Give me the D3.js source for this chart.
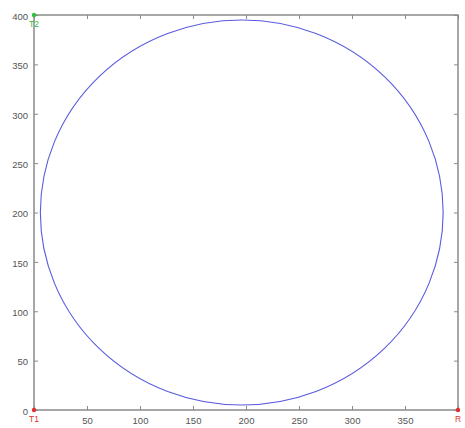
<!DOCTYPE html>
<html><head><meta charset="utf-8">
<script src="https://cdn.jsdelivr.net/npm/d3@7"></script>
<style>body{margin:0;background:#fff}svg{display:block}text{font-family:"Liberation Sans",Arial,sans-serif}</style>
</head><body>
<svg id="c" width="465" height="428"></svg>
<script>
const xTicks = [0, 50, 100, 150, 200, 250, 300, 350, 400];
const yTicks = [0, 50, 100, 150, 200, 250, 300, 350, 400];
const xTickLabels = ["", "50", "100", "150", "200", "250", "300", "350", ""];
const yTickLabels = ["0", "50", "100", "150", "200", "250", "300", "350", "400"];
const circleCenter = [196, 200];
const circleRadii = [190, 195];
const markerNames = ["T1", "T2", "R"];
const markerX = [0, 0, 400];
const markerY = [0, 400, 0];
const markerColors = ["#e03030", "#30c040", "#e03030"];

const svg = d3.select("#c");
const x = d3.scaleLinear().domain([0, 400]).range([34, 458]);
const y = d3.scaleLinear().domain([0, 400]).range([410, 15]);
const axisColor = "#8a8a8a";

svg.append("rect").attr("x", x(0)).attr("y", y(400)).attr("width", x(400) - x(0)).attr("height", y(0) - y(400))
  .attr("fill", "#fff").attr("stroke", axisColor).attr("stroke-width", 1.5);

const gx = svg.append("g").attr("transform", `translate(0,${y(0)})`)
  .call(d3.axisBottom(x).tickValues(xTicks).tickFormat((d, i) => xTickLabels[i]).tickSizeInner(-4).tickSizeOuter(0).tickPadding(7));
const gxt = svg.append("g").attr("transform", `translate(0,${y(400)})`)
  .call(d3.axisTop(x).tickValues(xTicks).tickFormat("").tickSizeInner(-4).tickSizeOuter(0));
const gy = svg.append("g").attr("transform", `translate(${x(0)},0)`)
  .call(d3.axisLeft(y).tickValues(yTicks).tickFormat((d, i) => yTickLabels[i]).tickSizeInner(-4).tickSizeOuter(0).tickPadding(6));
const gyr = svg.append("g").attr("transform", `translate(${x(400)},0)`)
  .call(d3.axisRight(y).tickValues(yTicks).tickFormat("").tickSizeInner(-4).tickSizeOuter(0));
[gx, gxt, gy, gyr].forEach(g => {
  g.select(".domain").remove();
  g.selectAll(".tick line").attr("stroke", axisColor);
  g.selectAll(".tick text").attr("fill", "#555").attr("font-size", 9.5);
});
gy.selectAll(".tick text").attr("dy", "0.45em");

svg.append("ellipse")
  .attr("cx", x(circleCenter[0])).attr("cy", y(circleCenter[1]))
  .attr("rx", x(circleRadii[0]) - x(0)).attr("ry", y(0) - y(circleRadii[1]))
  .attr("fill", "none").attr("stroke", "#5a5ae0").attr("stroke-width", 1.1);

markerNames.forEach((n, i) => {
  const cx = x(markerX[i]), cy = y(markerY[i]);
  svg.append("circle").attr("cx", cx).attr("cy", cy).attr("r", 2.2).attr("fill", markerColors[i]);
  svg.append("text").attr("x", cx).attr("y", cy + 12).attr("text-anchor", "middle")
    .attr("font-size", 8.5).attr("fill", markerColors[i]).text(n);
});
</script>
</body></html>
